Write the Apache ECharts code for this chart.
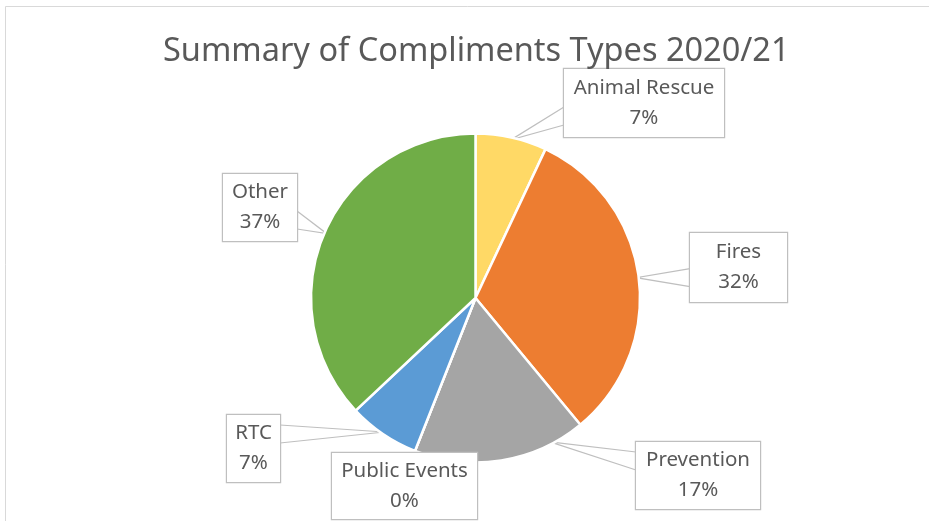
<!DOCTYPE html>
<html>
<head>
<meta charset="utf-8">
<script src="https://cdn.jsdelivr.net/npm/echarts@6/dist/echarts.min.js"></script>
<style>
html,body{margin:0;padding:0;background:#fff;}
#chart{width:929px;height:521px;}
</style>
</head>
<body>
<div id="chart"></div>
<script>
// ---- data ----
var categories = ['Animal Rescue', 'Fires', 'Prevention', 'Public Events', 'RTC', 'Other'];
var values = [7, 32, 17, 0, 7, 37];
var colors = ['#FFD966', '#ED7D31', '#A5A5A5', '#4472C4', '#5B9BD5', '#70AD47'];
var titleText = 'Summary of Compliments Types 2020/21';

// ---- layout (positions / sizes, not data) ----
var CX = 475.5, CY = 298, R = 164.5;
var FONT = "'Noto Sans', sans-serif";
// label box: center x, center y, width, height, anchor fraction inside slice
var boxes = [
  {x: 644, y: 103, w: 160, h: 68, f: 0.5},
  {x: 738.5, y: 267.5, w: 97, h: 69, f: 0.5},
  {x: 698, y: 475.5, w: 124, h: 67, f: 0.2},
  {x: 404.5, y: 486, w: 145, h: 66, f: 0.5, noLine: true},
  {x: 253.5, y: 448.5, w: 53, h: 67, f: 0.5},
  {x: 260, y: 207.5, w: 74, h: 67, f: 0.5}
];

var total = values.reduce(function (a, b) { return a + b; }, 0);
var cum = [];
(function () { var s = 0; for (var i = 0; i < values.length; i++) { cum.push(s); s += values[i]; } })();

var chart = echarts.init(document.getElementById('chart'), null, {renderer: 'canvas'});

var data = categories.map(function (c, i) {
  var b = boxes[i];
  return {
    name: c,
    value: values[i],
    itemStyle: {color: colors[i]},
    label: {
      width: b.w,
      padding: [(b.h - 60) / 2 + 1, 0, (b.h - 60) / 2 - 1, 0]
    }
  };
});

function anchorPoint(i) {
  var b = boxes[i];
  var frac = (cum[i] + values[i] * b.f) / total;
  var ang = frac * 2 * Math.PI; // clockwise from top
  var r = R * 0.985;
  return [CX + r * Math.sin(ang), CY - r * Math.cos(ang)];
}

var option = {
  backgroundColor: '#fff',
  animation: false,
  title: {
    text: titleText,
    left: 158,
    top: 30,
    textStyle: {fontFamily: FONT, fontSize: 32.5, fontWeight: 'normal', color: '#595959'}
  },
  graphic: [{
    type: 'rect',
    shape: {x: 5.5, y: 6.5, width: 1000, height: 1000},
    style: {fill: 'none', stroke: '#d9d9d9', lineWidth: 1},
    silent: true,
    z: -1
  }],
  series: [{
    type: 'pie',
    center: [CX, CY],
    radius: [0, R],
    startAngle: 90,
    clockwise: true,
    avoidLabelOverlap: false,
    stillShowZeroSum: true,
    minShowLabelAngle: 0,
    itemStyle: {borderColor: '#fff', borderWidth: 2.5},
    label: {
      show: true,
      fontFamily: FONT,
      fontSize: 20.5,
      lineHeight: 30,
      color: '#595959',
      backgroundColor: '#fff',
      borderColor: '#bfbfbf',
      borderWidth: 1.2,
      align: 'center',
      formatter: function (p) {
        return p.name + '\n' + Math.round(p.percent) + '%';
      }
    },
    labelLine: {
      show: true,
      length: 10,
      length2: 10,
      lineStyle: {color: '#bfbfbf', width: 1.2}
    },
    labelLayout: function (params) {
      var i = params.dataIndex;
      var b = boxes[i];
      var res = {x: b.x, y: b.y, align: 'center', verticalAlign: 'middle'};
      var a = anchorPoint(i);
      var left = b.x - b.w / 2, right = b.x + b.w / 2;
      var top = b.y - b.h / 2, bottom = b.y + b.h / 2;
      if (b.noLine) {
        res.labelLinePoints = [a, a, a];
        return res;
      }
      var ex = a[0] < left ? left : right;
      var c = Math.max(top + 19, Math.min(bottom - 21, a[1]));
      res.labelLinePoints = [[ex, c - 9], a, [ex, c + 9]];
      return res;
    },
    data: data
  }]
};
chart.setOption(option);
</script>
</body>
</html>
